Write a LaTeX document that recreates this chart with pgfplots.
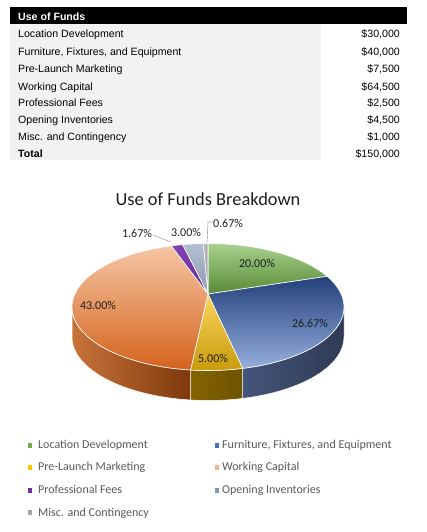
\documentclass[border=0pt]{standalone}
\usepackage{fontspec}
\setmainfont{Carlito}
\newfontfamily\arial{Liberation Sans}
\usepackage{pgfplots}
\usepackage{pgfplotstable}
\pgfplotsset{compat=1.18}
\usetikzlibrary{calc}

\definecolor{tgray}{HTML}{F2F2F2}
\definecolor{txt}{HTML}{1F1F1F}
\definecolor{leg}{HTML}{595959}
\definecolor{lead}{HTML}{A6A6A6}
% side colours
\definecolor{sBl}{HTML}{44547A}\definecolor{sBr}{HTML}{2F3B55}
\definecolor{sYl}{HTML}{846400}\definecolor{sYr}{HTML}{6E5300}
\definecolor{sOl}{HTML}{C8743A}\definecolor{sOr}{HTML}{7E380C}
% top colours
\definecolor{tGt}{HTML}{A9D18E}\definecolor{tGb}{HTML}{578A36}
\definecolor{tBt}{HTML}{22407A}\definecolor{tBb}{HTML}{95AEDD}
\definecolor{tYt}{HTML}{FAD660}\definecolor{tYb}{HTML}{C99A0A}
\definecolor{tOt}{HTML}{F5C6A5}\definecolor{tOb}{HTML}{D5621C}
\definecolor{tPt}{HTML}{8242B2}\definecolor{tPb}{HTML}{6A2C98}
\definecolor{tIt}{HTML}{B4C0D0}\definecolor{tIb}{HTML}{8A9AB2}
\definecolor{tMt}{HTML}{B5B5B5}\definecolor{tMb}{HTML}{9A9A9A}
% legend colours
\definecolor{cG}{HTML}{70AD47}\definecolor{cB}{HTML}{4472C4}
\definecolor{cY}{HTML}{FFC000}\definecolor{cO}{HTML}{F4B183}
\definecolor{cP}{HTML}{7030A0}\definecolor{cI}{HTML}{8497B0}
\definecolor{cM}{HTML}{A5A5A5}

\tikzset{
  tab/.style={anchor=base west, inner sep=0pt, font=\arial\fontsize{10.6}{12}\selectfont},
  tabr/.style={anchor=base east, inner sep=0pt, font=\arial\fontsize{10.6}{12}\selectfont},
  lab/.style={inner sep=0pt, font=\fontsize{12}{14}\selectfont, text=txt},
  legt/.style={anchor=base west, inner sep=0pt, font=\fontsize{12}{14}\selectfont, text=leg},
}

\pgfplotstableread[col sep=semicolon]{
label;value
Location Development;30000
Furniture, Fixtures, and Equipment;40000
Pre-Launch Marketing;7500
Working Capital;64500
Professional Fees;2500
Opening Inventories;4500
Misc. and Contingency;1000
}\funds

% perspective pie geometry (pt = px)
\def\pieRX{136}\def\pieRY{63.5}\def\pieH{13}
\edef\pieK{\fpeval{\pieH/\pieRY}}
\edef\pieB{\fpeval{\pieRY*(1-\pieK*\pieK)}}
\edef\pieA{\fpeval{\pieRX*sqrt(1-\pieK*\pieK)}}
\newcommand\phiraw[1]{\fpeval{atand((\pieB*sind(#1)/(1+\pieK*sind(#1))+\pieH)/\pieRY, (\pieA*cosd(#1)/(1+\pieK*sind(#1)))/\pieRX)}}
\newcommand\phiof[1]{\fpeval{round((#1) + (\phiraw{#1}-(#1)) - 360*round((\phiraw{#1}-(#1))/360), 3)}}
\newcommand\gv[2]{\csname #1#2\endcsname}

\xdef\total{0}%
\foreach \i in {0,...,6}{%
  \pgfplotstablegetelem{\i}{value}\of\funds
  \expandafter\xdef\csname v\i\endcsname{\pgfplotsretval}%
  \pgfplotstablegetelem{\i}{label}\of\funds
  \expandafter\xdef\csname lab\i\endcsname{\pgfplotsretval}%
  \xdef\total{\fpeval{\total+\csname v\i\endcsname}}%
}%
\xdef\thcur{90}%
\foreach \i in {0,...,6}{%
  \expandafter\xdef\csname ts\i\endcsname{\thcur}%
  \xdef\thcur{\fpeval{round(\thcur - 360*\csname v\i\endcsname/\total, 4)}}%
  \expandafter\xdef\csname te\i\endcsname{\thcur}%
  \expandafter\xdef\csname ps\i\endcsname{\phiof{\csname ts\i\endcsname}}%
  \expandafter\xdef\csname pe\i\endcsname{\phiof{\thcur}}%
  \expandafter\xdef\csname pc\i\endcsname{\fpeval{round(100*\csname v\i\endcsname/\total,2)}}%
}%

\newcommand\pietop[3]{%
  \path[draw=white, line width=0.6pt, line join=round, top color=#2, bottom color=#3]
    (axis cs:208,238) -- ($(axis cs:208,225)+(\gv{ps}{#1}:136pt and 63.5pt)$)
    arc[start angle=\gv{ps}{#1}, end angle=\gv{pe}{#1}, x radius=136pt, y radius=63.5pt] -- cycle;}
\newcommand\pieside[4]{%
  \path[draw=white, line width=0.5pt, line join=round, left color=#3, right color=#4]
    ($(axis cs:208,225)+(#1:136pt and 63.5pt)$)
    arc[start angle=#1, end angle=#2, x radius=136pt, y radius=63.5pt]
    -- ++(0pt,-30pt)
    arc[start angle=#2, end angle=#1, x radius=136pt, y radius=63.5pt] -- cycle;}
\newcommand\pct[1]{\pgfmathprintnumber[fixed,fixed zerofill,precision=2,assume math mode=true]{\gv{pc}{#1}}\%}
\newcommand\money[1]{\$\pgfmathprintnumber[fixed,precision=0,1000 sep={,},assume math mode=true]{#1}}

\begin{document}
\begin{tikzpicture}
\begin{axis}[
  width=427pt, height=532pt, scale only axis,
  xmin=0, xmax=427, ymin=0, ymax=532,
  hide axis, clip=false,
]
\path (axis cs:0,0) rectangle (axis cs:427,532);

% ---- table ----
\fill[black] (axis cs:10,508) rectangle (axis cs:407,525);
\fill[tgray] (axis cs:10,372) rectangle (axis cs:321,508);
\node[tab, text=white, font=\arial\bfseries\fontsize{10.6}{12}\selectfont] at (axis cs:18,511) {Use of Funds};
\node[tab] at (axis cs:18,494) {\gv{lab}{0}};
\node[tab] at (axis cs:18,476) {\gv{lab}{1}};
\node[tab] at (axis cs:18,459) {\gv{lab}{2}};
\node[tab] at (axis cs:18,441) {\gv{lab}{3}};
\node[tab] at (axis cs:18,425) {\gv{lab}{4}};
\node[tab] at (axis cs:18,408) {\gv{lab}{5}};
\node[tab] at (axis cs:18,391) {\gv{lab}{6}};
\node[tab, font=\arial\bfseries\fontsize{10.6}{12}\selectfont] at (axis cs:18,374) {Total};
\node[tabr] at (axis cs:400,494) {\money{\gv{v}{0}}};
\node[tabr] at (axis cs:400,476) {\money{\gv{v}{1}}};
\node[tabr] at (axis cs:400,459) {\money{\gv{v}{2}}};
\node[tabr] at (axis cs:400,441) {\money{\gv{v}{3}}};
\node[tabr] at (axis cs:400,425) {\money{\gv{v}{4}}};
\node[tabr] at (axis cs:400,408) {\money{\gv{v}{5}}};
\node[tabr] at (axis cs:400,391) {\money{\gv{v}{6}}};
\node[tabr] at (axis cs:400,374) {\money{\total}};

% ---- title ----
\node[anchor=base, inner sep=0pt, font=\fontsize{18.4}{21}\selectfont, text=txt] at (axis cs:208,326) {Use of Funds Breakdown};

% ---- pie sides ----
\pieside{0}{\gv{pe}{1}}{sBl}{sBr}
\pieside{\gv{ps}{2}}{\gv{pe}{2}}{sYl}{sYr}
\pieside{\gv{ps}{3}}{-180}{sOl}{sOr}

% ---- pie tops ----
\pietop{0}{tGt}{tGb}
\pietop{1}{tBt}{tBb}
\pietop{2}{tYt}{tYb}
\pietop{3}{tOt}{tOb}
\pietop{4}{tPt}{tPb}
\pietop{5}{tIt}{tIb}
\pietop{6}{tMt}{tMb}

% ---- data labels ----
\node[lab] at (axis cs:257,269) {\pct{0}};
\node[lab] at (axis cs:310,209) {\pct{1}};
\node[lab] at (axis cs:213,174) {\pct{2}};
\node[lab] at (axis cs:98,227) {\pct{3}};
\node[lab] at (axis cs:137,299) {\pct{4}};
\node[lab] at (axis cs:186,300) {\pct{5}};
\node[lab] at (axis cs:228,309) {\pct{6}};
\draw[lead, line width=0.6pt] (axis cs:153,297) -- (axis cs:171,290);
\draw[lead, line width=0.6pt] (axis cs:213,310) -- (axis cs:208,310) -- (axis cs:207,289);

% ---- legend ----
\addplot[only marks, mark=square*, mark size=1.8pt, color=cG] coordinates {(29.5,87)};
\addplot[only marks, mark=square*, mark size=1.8pt, color=cB] coordinates {(216.5,87)};
\addplot[only marks, mark=square*, mark size=1.8pt, color=cY] coordinates {(29.5,65)};
\addplot[only marks, mark=square*, mark size=1.8pt, color=cO] coordinates {(216.5,65)};
\addplot[only marks, mark=square*, mark size=1.8pt, color=cP] coordinates {(29.5,42)};
\addplot[only marks, mark=square*, mark size=1.8pt, color=cI] coordinates {(216.5,42)};
\addplot[only marks, mark=square*, mark size=1.8pt, color=cM] coordinates {(29.5,20)};
\node[legt] at (axis cs:38,83) {\gv{lab}{0}};
\node[legt] at (axis cs:222,83) {\gv{lab}{1}};
\node[legt] at (axis cs:38,61) {\gv{lab}{2}};
\node[legt] at (axis cs:222,61) {\gv{lab}{3}};
\node[legt] at (axis cs:38,38) {\gv{lab}{4}};
\node[legt] at (axis cs:222,38) {\gv{lab}{5}};
\node[legt] at (axis cs:38,16) {\gv{lab}{6}};
\end{axis}
\end{tikzpicture}
\end{document}
